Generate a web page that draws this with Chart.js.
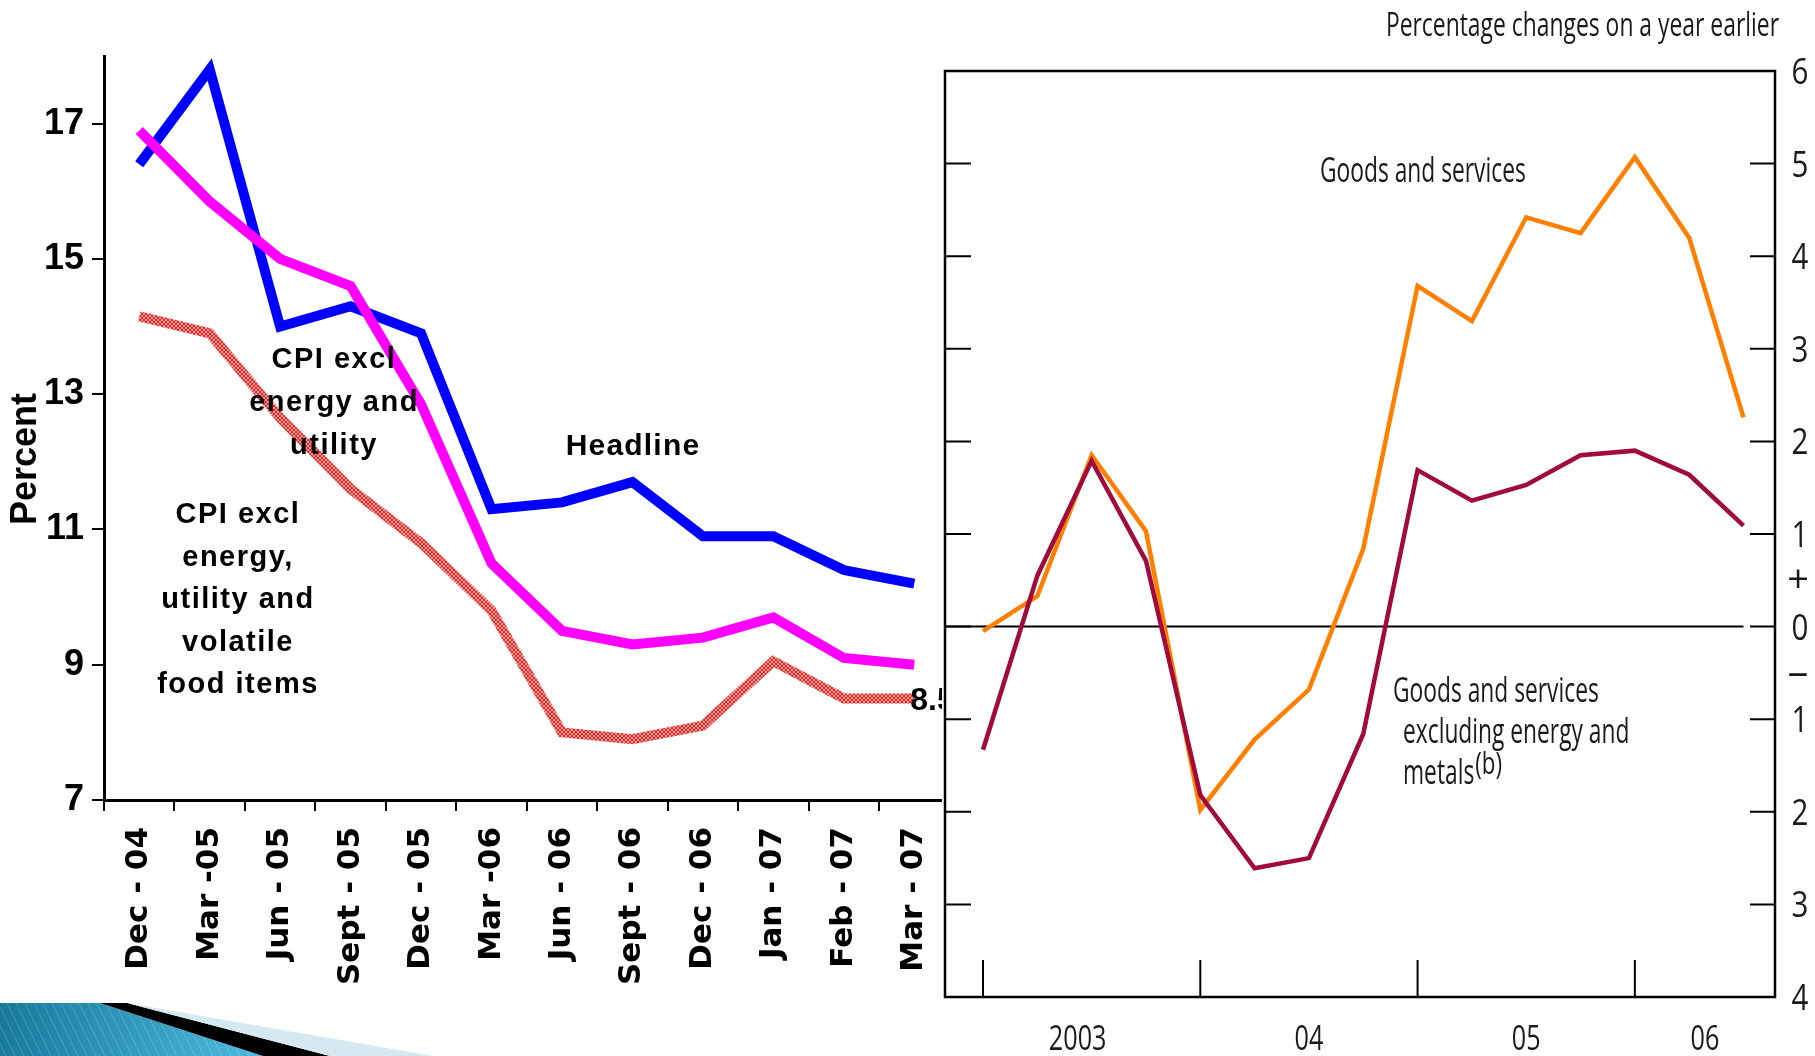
<!DOCTYPE html>
<html>
<head>
<meta charset="utf-8">
<script src="https://cdn.jsdelivr.net/npm/chart.js@4.4.0/dist/chart.umd.min.js"></script>
<style>
  html, body { margin: 0; padding: 0; background: #fff; }
  #wrap { position: relative; width: 1815px; height: 1056px; overflow: hidden; }
  #left { position: absolute; left: 0; top: 0; }
  #right { position: absolute; left: 942px; top: 0; }
</style>
</head>
<body>
<div id="wrap">
  <canvas id="left" width="968" height="1056"></canvas>
  <canvas id="right" width="873" height="1056"></canvas>
</div>
<script>
// left panel: CPI inflation, percent
const cpiMonths = ["Dec - 04", "Mar -05", "Jun - 05", "Sept - 05", "Dec - 05", "Mar -06",
                   "Jun - 06", "Sept - 06", "Dec - 06", "Jan - 07", "Feb - 07", "Mar - 07"];
const headline = [16.4, 17.8, 14.0, 14.3, 13.9, 11.3, 11.4, 11.7, 10.9, 10.9, 10.4, 10.2];
const cpiExclEnergyUtility = [16.9, 15.85, 15.0, 14.6, 12.85, 10.5, 9.5, 9.3, 9.4, 9.7, 9.1, 9.0];
const cpiExclVolatile = [14.15, 13.9, 12.65, 11.6, 10.8, 9.8, 8.0, 7.9, 8.1, 9.05, 8.5, 8.5];
const cpiTicks = [7, 9, 11, 13, 15, 17];

// right panel: percentage changes on a year earlier (quarterly)
const quarters = ["2003 Q1", "2003 Q2", "2003 Q3", "2003 Q4", "2004 Q1", "2004 Q2", "2004 Q3", "2004 Q4",
                  "2005 Q1", "2005 Q2", "2005 Q3", "2005 Q4", "2006 Q1", "2006 Q2", "2006 Q3"];
const goodsServices = [-0.05, 0.33, 1.85, 1.03, -1.98, -1.22, -0.68, 0.84, 3.68, 3.3, 4.42, 4.25, 5.07, 4.2, 2.26];
const goodsExclEnergy = [-1.33, 0.55, 1.79, 0.71, -1.82, -2.61, -2.5, -1.16, 1.69, 1.36, 1.53, 1.85, 1.9, 1.64, 1.09];
const pctTicks = [6, 5, 4, 3, 2, 1, 0, -1, -2, -3, -4];
const yearLabels = ["2003", "04", "05", "06"];
const yearStarts = [0, 4, 8, 12];

// hatched red stroke for the third CPI series
const hatch = document.createElement("canvas");
hatch.width = 4; hatch.height = 4;
const hctx = hatch.getContext("2d");
hctx.fillStyle = "#ffa0a0";
hctx.fillRect(0, 0, 4, 4);
hctx.fillStyle = "#e8241f";
for (let i = 0; i < 4; i++) {
  hctx.fillRect(i, i, 1, 1);
  hctx.fillRect(3 - i, i, 1, 1);
}
const hatchPattern = hctx.createPattern(hatch, "repeat");

function spacedText(ctx, lines, cx, cy, lineGap, size, spacing) {
  ctx.save();
  ctx.font = "bold " + size + "px 'Liberation Sans', Arial, sans-serif";
  ctx.fillStyle = "#000";
  ctx.textAlign = "center";
  ctx.textBaseline = "middle";
  ctx.letterSpacing = spacing + "px";
  lines.forEach((t, i) => ctx.fillText(t, cx, cy + i * lineGap));
  ctx.restore();
}

const leftDecor = {
  id: "leftDecor",
  afterDraw: (chart) => {
    const ctx = chart.ctx;
    const x = chart.scales.x, y = chart.scales.y;

    spacedText(ctx, ["CPI excl", "energy and", "utility"], 334, 360, 43, 29, 1.5);
    spacedText(ctx, ["Headline"], 633, 447, 0, 30, 1.2);
    spacedText(ctx, ["CPI excl", "energy,", "utility and", "volatile", "food items"], 238, 515, 42.5, 29, 1.5);

    // end label on the last point
    const last = cpiExclVolatile.length - 1;
    ctx.save();
    ctx.font = "bold 32px 'Liberation Sans', Arial, sans-serif";
    ctx.fillStyle = "#000";
    ctx.textBaseline = "middle";
    ctx.fillText(cpiExclVolatile[last].toFixed(1), x.getPixelForValue(last) - 4, y.getPixelForValue(cpiExclVolatile[last]) + 3);
    ctx.restore();

    // axis title
    ctx.save();
    ctx.translate(26, 459);
    ctx.rotate(-Math.PI / 2);
    ctx.font = "bold 36px 'Liberation Sans', Arial, sans-serif";
    ctx.fillStyle = "#000";
    ctx.textAlign = "center";
    ctx.textBaseline = "middle";
    ctx.fillText("Percent", 0, 0);
    ctx.restore();

    // slide decoration, bottom left
    ctx.save();
    const g = ctx.createLinearGradient(0, 1003, 260, 1056);
    g.addColorStop(0, "#16799a");
    g.addColorStop(1, "#4db9e0");
    ctx.fillStyle = g;
    ctx.beginPath();
    ctx.moveTo(0, 1003); ctx.lineTo(100, 1003); ctx.lineTo(263, 1056); ctx.lineTo(0, 1056);
    ctx.closePath(); ctx.fill();
    ctx.strokeStyle = "rgba(255,255,255,0.18)";
    ctx.lineWidth = 1;
    for (let k = -20; k < 260; k += 9) {
      ctx.beginPath(); ctx.moveTo(k, 1003); ctx.lineTo(k + 26, 1056); ctx.stroke();
    }
    ctx.fillStyle = "#000";
    ctx.beginPath();
    ctx.moveTo(100, 1003); ctx.lineTo(127, 1003); ctx.lineTo(330, 1056); ctx.lineTo(263, 1056);
    ctx.closePath(); ctx.fill();
    ctx.fillStyle = "#d5e9f1";
    ctx.beginPath();
    ctx.moveTo(127, 1003); ctx.lineTo(433, 1056); ctx.lineTo(330, 1056);
    ctx.closePath(); ctx.fill();
    ctx.restore();
  },
};

new Chart(document.getElementById("left"), {
  type: "line",
  data: {
    labels: cpiMonths,
    datasets: [
      {
        label: "CPI excl energy and utility",
        data: cpiExclEnergyUtility,
        borderColor: "#ff00ff",
        borderWidth: 10,
        pointRadius: 0,
      },
      {
        label: "Headline",
        data: headline,
        borderColor: "#0000ff",
        borderWidth: 10,
        pointRadius: 0,
      },
      {
        label: "CPI excl energy, utility and volatile food items",
        data: cpiExclVolatile,
        borderColor: hatchPattern,
        borderWidth: 10,
        pointRadius: 0,
      },
    ],
  },
  options: {
    responsive: false,
    animation: false,
    layout: { padding: { left: 0, top: 56, right: 13, bottom: 0 } },
    plugins: { legend: { display: false }, tooltip: { enabled: false } },
    scales: {
      x: {
        offset: true,
        grid: { offset: true, drawOnChartArea: false, tickLength: 11, color: "#000", lineWidth: 2 },
        border: { color: "#000", width: 3 },
        ticks: {
          minRotation: 90,
          maxRotation: 90,
          padding: 16,
          color: "#000",
          font: { family: "'DejaVu Sans'", weight: "bold", size: 31 },
        },
        afterFit: (s) => { s.height = 256; },
      },
      y: {
        min: 7,
        max: 18,
        afterBuildTicks: (s) => { s.ticks = cpiTicks.map((v) => ({ value: v })); },
        grid: { drawOnChartArea: false, tickLength: 12, color: "#000", lineWidth: 2 },
        border: { color: "#000", width: 3 },
        ticks: {
          padding: 8,
          color: "#000",
          font: { family: "'Liberation Sans'", weight: "bold", size: 36 },
        },
        afterFit: (s) => { s.width = 104; },
      },
    },
  },
  plugins: [leftDecor],
});

function narrowText(ctx, text, x, y, size, align, sx) {
  ctx.save();
  ctx.font = size + "px 'Open Sans', sans-serif";
  ctx.fillStyle = "#1a1a1a";
  ctx.textAlign = align;
  ctx.textBaseline = "alphabetic";
  ctx.translate(x, y);
  ctx.scale(sx, 1);
  ctx.fillText(text, 0, 0);
  const w = ctx.measureText(text).width * sx;
  ctx.restore();
  return w;
}

const rightDecor = {
  id: "rightDecor",
  beforeDraw: (chart) => {
    const ctx = chart.ctx;
    ctx.save();
    ctx.fillStyle = "#fff";
    ctx.fillRect(0, 0, chart.width, chart.height);
    ctx.restore();
  },
  beforeDatasetsDraw: (chart) => {
    const ctx = chart.ctx;
    const { left } = chart.chartArea;
    const x = chart.scales.x, y = chart.scales.y;
    ctx.save();
    ctx.strokeStyle = "#000";
    ctx.lineWidth = 2;
    ctx.beginPath();
    ctx.moveTo(left, y.getPixelForValue(0));
    ctx.lineTo(x.getPixelForValue(quarters.length - 1), y.getPixelForValue(0));
    ctx.stroke();
    ctx.restore();
  },
  afterDraw: (chart) => {
    const ctx = chart.ctx;
    const { left, right, top, bottom } = chart.chartArea;
    const x = chart.scales.x, y = chart.scales.y;
    ctx.save();
    ctx.strokeStyle = "#000";
    ctx.lineWidth = 2.5;
    ctx.strokeRect(left, top, right - left, bottom - top);
    ctx.lineWidth = 2;
    pctTicks.forEach((v) => {
      const py = y.getPixelForValue(v);
      if (v !== 6 && v !== -4) {
        ctx.beginPath();
        ctx.moveTo(left, py); ctx.lineTo(left + 26, py);
        ctx.moveTo(right - 25, py); ctx.lineTo(right, py);
        ctx.stroke();
      }
      narrowText(ctx, String(Math.abs(v)), right + 25, py + 13, 36, "center", 0.82);
    });
    narrowText(ctx, "+", right + 23, y.getPixelForValue(0.5) + 12, 38, "center", 1);
    narrowText(ctx, "\u2013", right + 23, y.getPixelForValue(-0.5) + 12, 38, "center", 1.1);
    yearStarts.forEach((q, i) => {
      const px = x.getPixelForValue(q);
      ctx.beginPath();
      ctx.moveTo(px, bottom - 37); ctx.lineTo(px, bottom);
      ctx.stroke();
      const next = i + 1 < yearStarts.length ? yearStarts[i + 1] : x.max;
      const mid = (x.getPixelForValue(q) + x.getPixelForValue(next)) / 2 - (i === 0 ? 14 : 0);
      narrowText(ctx, yearLabels[i], mid, bottom + 53, 35, "center", 0.72);
    });
    ctx.restore();

    narrowText(ctx, "Percentage changes on a year earlier", 837, 36, 32, "right", 0.715);
    narrowText(ctx, "Goods and services", 378, 182, 34, "left", 0.67);
    narrowText(ctx, "Goods and services", 451, 702, 34, "left", 0.67);
    narrowText(ctx, "excluding energy and", 461, 743, 34, "left", 0.67);
    const mw = narrowText(ctx, "metals", 461, 784, 34, "left", 0.67);
    narrowText(ctx, "(b)", 461 + mw + 1, 774, 31, "left", 0.72);
  },
};

new Chart(document.getElementById("right"), {
  type: "line",
  data: {
    labels: quarters,
    datasets: [
      {
        label: "Goods and services excluding energy and metals",
        data: goodsExclEnergy.map((v, i) => ({ x: i, y: v })),
        borderColor: "#a00a3c",
        borderWidth: 4.5,
        pointRadius: 0,
      },
      {
        label: "Goods and services",
        data: goodsServices.map((v, i) => ({ x: i, y: v })),
        borderColor: "#ff7f00",
        borderWidth: 4.5,
        pointRadius: 0,
      },
    ],
  },
  options: {
    responsive: false,
    animation: false,
    layout: { padding: { left: 3, right: 40, top: 71, bottom: 59 } },
    plugins: { legend: { display: false }, tooltip: { enabled: false } },
    scales: {
      x: { type: "linear", min: -0.7, max: 14.58, display: false },
      y: { min: -4, max: 6, display: false },
    },
  },
  plugins: [rightDecor],
});
</script>
</body>
</html>
